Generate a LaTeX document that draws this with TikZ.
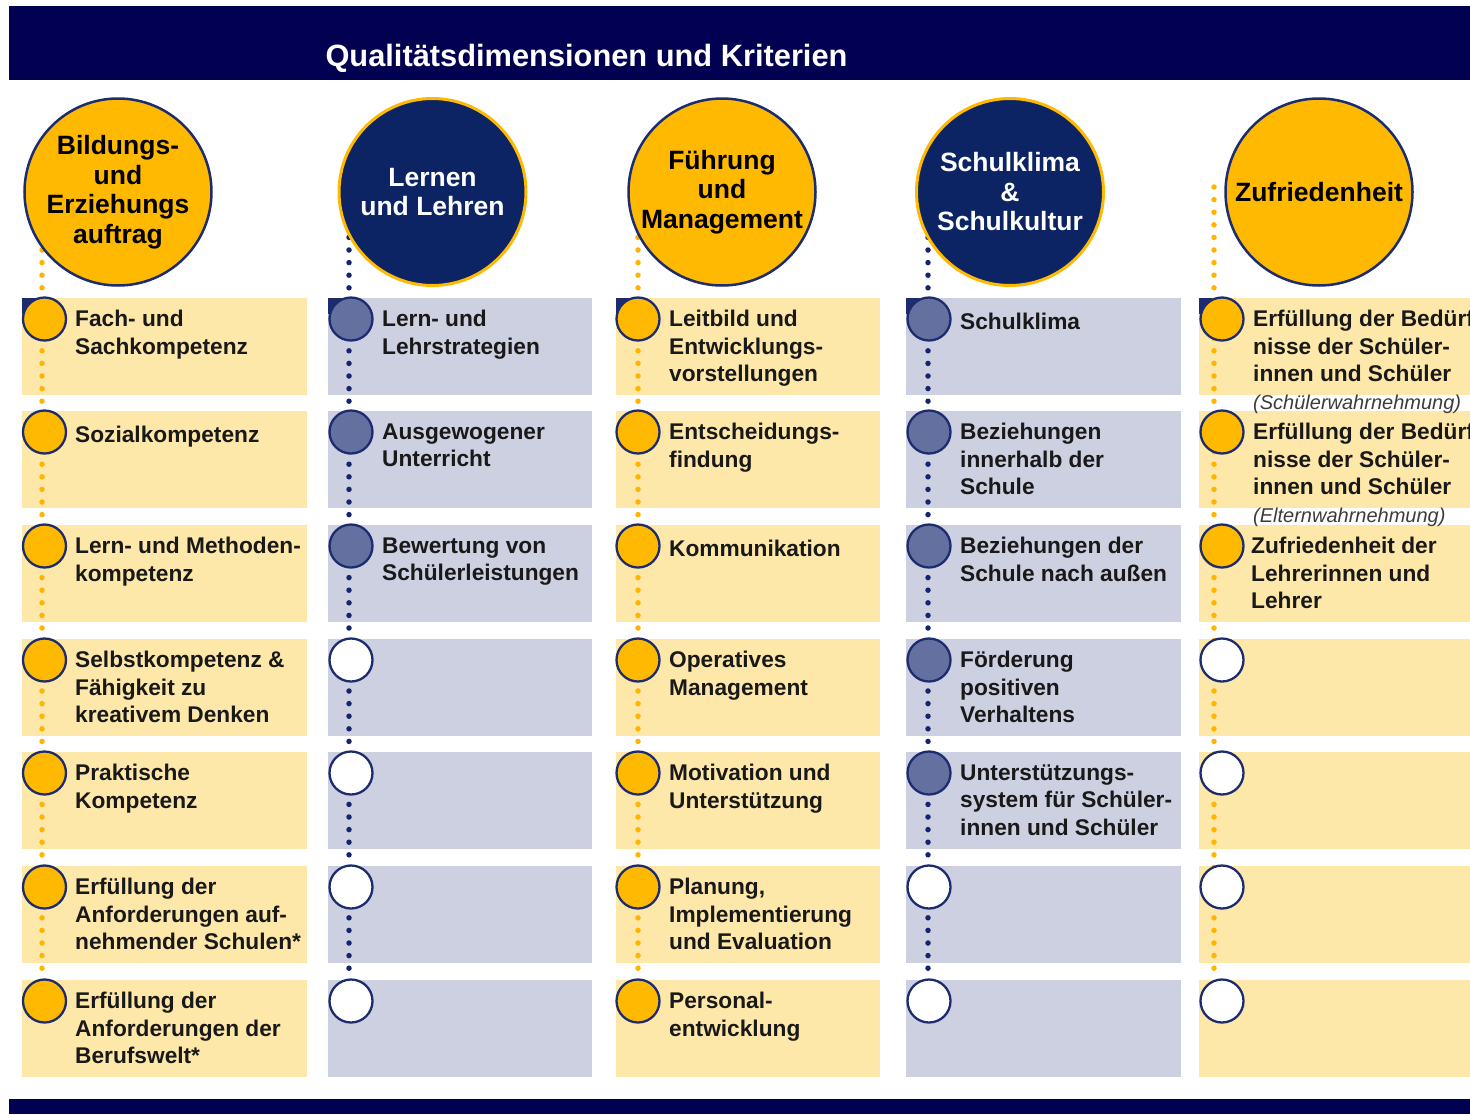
\documentclass[tikz,border=0pt]{standalone}
\usepackage{fontspec}
\setmainfont{Liberation Sans}
\definecolor{hdr}{RGB}{2,0,80}
\definecolor{yel}{RGB}{255,185,0}
\definecolor{ylight}{RGB}{253,232,170}
\definecolor{blight}{RGB}{205,208,224}
\definecolor{navyfill}{RGB}{12,36,100}
\definecolor{navyline}{RGB}{28,44,110}
\definecolor{slate}{RGB}{100,112,160}
\definecolor{txt}{RGB}{25,25,25}
\definecolor{itxt}{RGB}{60,60,60}
\definecolor{dotY}{RGB}{255,180,0}
\definecolor{dotB}{RGB}{20,36,110}
\newcommand{\itemfont}{\fontsize{22.7}{27.5}\selectfont\bfseries}
\newcommand{\bigfont}{\fontsize{26.5}{29.5}\selectfont\bfseries}
\newcommand{\notefont}{\fontsize{20}{27.5}\selectfont\mdseries\itshape\color{itxt}}
\tikzset{
  ybox/.style={fill=ylight},
  bbox/.style={fill=blight},
  corner/.style={fill=navyline},
  smc/.style={circle, minimum size=43pt, inner sep=0pt, draw=navyline, line width=2.3pt},
  smY/.style={smc, fill=yel},
  smB/.style={smc, fill=slate},
  smW/.style={smc, fill=white},
  bigc/.style={circle, minimum size=187pt, inner sep=0pt, align=center, font=\bigfont},
  bigY/.style={bigc, fill=yel, draw=navyline, line width=2.5pt, text=black},
  bigB/.style={bigc, fill=navyfill, draw=yel, line width=3pt, text=white},
  dotline/.style={line width=5.5pt, line cap=round, dash pattern=on 0pt off 12.6pt},
  dotsY/.style={dotline, draw=dotY},
  dotsB/.style={dotline, draw=dotB},
  item/.style={anchor=north west, align=left, inner sep=0pt, font=\itemfont, text=txt, execute at begin node=\strut},
  titletext/.style={anchor=base, inner sep=0pt, text=white, font=\fontsize{30.8}{34}\selectfont\bfseries}
}
\begin{document}
\begin{tikzpicture}[x=1pt,y=-1pt]
\useasboundingbox (0,0) rectangle (1470,1114);
\clip (0,0) rectangle (1470,1114);
% header and footer bars
\fill[hdr] (9,6) rectangle (1470,80);
\fill[hdr] (9,1099) rectangle (1470,1114);
\node[titletext] (title) at (586.5,66) {Qualitätsdimensionen und Kriterien};
% boxes
\foreach \t in {298,411,525,639,752,866,980}{
  \fill[ybox] (22,\t) rectangle (307,\t+97);
  \fill[bbox] (328,\t) rectangle (592,\t+97);
  \fill[ybox] (616,\t) rectangle (880,\t+97);
  \fill[bbox] (906,\t) rectangle (1181,\t+97);
  \fill[ybox] (1199,\t) rectangle (1480,\t+97);
}
% corner marks of the first row
\fill[corner] (22,298) rectangle (38,314);
\fill[corner] (328,298) rectangle (344,314);
\fill[corner] (616,298) rectangle (632,314);
\fill[corner] (906,298) rectangle (922,314);
\fill[corner] (1199,298) rectangle (1215,314);
% dotted connectors
\coordinate (d1t) at (42,187);   \coordinate (d1b) at (42,978);
\coordinate (d2t) at (349,187);  \coordinate (d2b) at (349,978);
\coordinate (d3t) at (638,187);  \coordinate (d3b) at (638,978);
\coordinate (d4t) at (928,187);  \coordinate (d4b) at (928,978);
\coordinate (d5t) at (1214,187); \coordinate (d5b) at (1214,978);
\draw[dotsY] (d1t) -- (d1b);
\draw[dotsB] (d2t) -- (d2b);
\draw[dotsY] (d3t) -- (d3b);
\draw[dotsB] (d4t) -- (d4b);
\draw[dotsY] (d5t) -- (d5b);
% big circles
\node[bigY] (dim1) at (118,192) {Bildungs-\\und\\Erziehungs\\auftrag};
\node[bigB] (dim2) at (432.5,192) {Lernen\\und Lehren};
\node[bigY] (dim3) at (722,192) {Führung\\und\\Management};
\node[bigB] (dim4) at (1010,192) {Schulklima\\\&\\Schulkultur};
\node[bigY] (dim5) at (1319,192) {Zufriedenheit};
% small circles
\foreach \r/\t in {1/298,2/411,3/525,4/639,5/752,6/866,7/980}{
  \node[smY] (c1-\r) at (44.5,\t+21) {};
  \node[smY] (c3-\r) at (638,\t+21) {};
}
\foreach \r/\t in {1/298,2/411,3/525}{
  \node[smB] (c2-\r) at (351,\t+21) {};
  \node[smY] (c5-\r) at (1222,\t+21) {};
}
\foreach \r/\t in {4/639,5/752,6/866,7/980}{
  \node[smW] (c2-\r) at (351,\t+21) {};
  \node[smW] (c5-\r) at (1222,\t+21) {};
}
\foreach \r/\t in {1/298,2/411,3/525,4/639,5/752}{
  \node[smB] (c4-\r) at (929,\t+21) {};
}
\foreach \r/\t in {6/866,7/980}{
  \node[smW] (c4-\r) at (929,\t+21) {};
}
% texts column 1
\node[item] (t1-1) at (75,310.25) {Fach- und\\Sachkompetenz};
\node[item] (t1-2) at (75,423.25) {Sozialkompetenz};
\node[item] (t1-3) at (75,537.25) {Lern- und Methoden-\\kompetenz};
\node[item] (t1-4) at (75,651.25) {Selbstkompetenz \&\\Fähigkeit zu\\kreativem Denken};
\node[item] (t1-5) at (75,764.25) {Praktische\\Kompetenz};
\node[item] (t1-6) at (75,878.25) {Erfüllung der\\Anforderungen auf-\\nehmender Schulen*};
\node[item] (t1-7) at (75,992.25) {Erfüllung der\\Anforderungen der\\Berufswelt*};
% texts column 2
\node[item] (t2-1) at (382,310.25) {Lern- und\\Lehrstrategien};
\node[item] (t2-2) at (382,423.25) {Ausgewogener\\Unterricht};
\node[item] (t2-3) at (382,537.25) {Bewertung von\\Schülerleistungen};
% texts column 3
\node[item] (t3-1) at (669,310.25) {Leitbild und\\Entwicklungs-\\vorstellungen};
\node[item] (t3-2) at (669,423.25) {Entscheidungs-\\findung};
\node[item] (t3-3) at (669,537.25) {Kommunikation};
\node[item] (t3-4) at (669,651.25) {Operatives\\Management};
\node[item] (t3-5) at (669,764.25) {Motivation und\\Unterstützung};
\node[item] (t3-6) at (669,878.25) {Planung,\\Implementierung\\und Evaluation};
\node[item] (t3-7) at (669,992.25) {Personal-\\entwicklung};
% texts column 4
\node[item] (t4-1) at (960,310.25) {Schulklima};
\node[item] (t4-2) at (960,423.25) {Beziehungen\\innerhalb der\\Schule};
\node[item] (t4-3) at (960,537.25) {Beziehungen der\\Schule nach außen};
\node[item] (t4-4) at (960,651.25) {Förderung\\positiven\\Verhaltens};
\node[item] (t4-5) at (960,764.25) {Unterstützungs-\\system für Schüler-\\innen und Schüler};
% texts column 5
\node[item] (t5-1) at (1253,310.25) {Erfüllung der Bedürf-\\nisse der Schüler-\\innen und Schüler\\{\notefont (Schülerwahrnehmung)}};
\node[item] (t5-2) at (1253,423.25) {Erfüllung der Bedürf-\\nisse der Schüler-\\innen und Schüler\\{\notefont (Elternwahrnehmung)}};
\node[item] (t5-3) at (1251,537.25) {Zufriedenheit der\\Lehrerinnen und\\Lehrer};
\end{tikzpicture}
\end{document}
